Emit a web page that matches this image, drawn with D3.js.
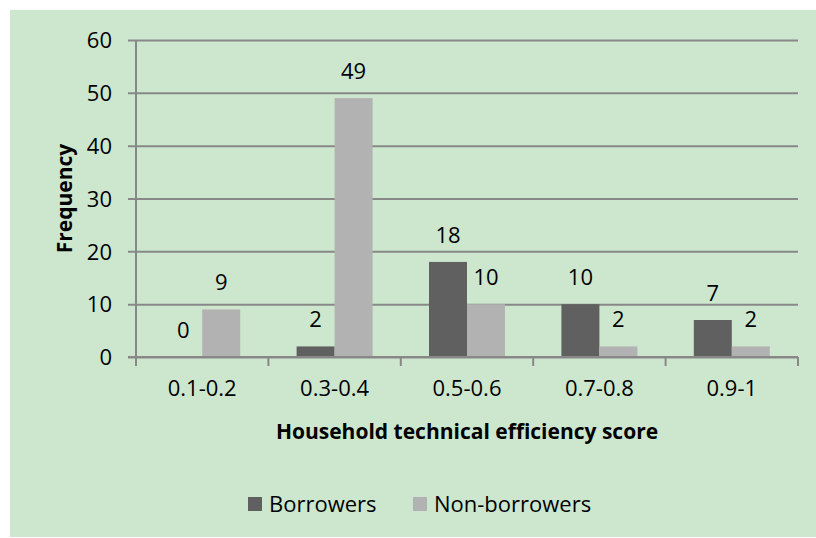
<!DOCTYPE html>
<html>
<head>
<meta charset="utf-8">
<script src="https://cdn.jsdelivr.net/npm/d3@7"></script>
<style>
  body { margin: 0; background: #fff; }
  text { font-family: "Open Sans", sans-serif; fill: #000; }
</style>
</head>
<body>
<svg id="chart" width="816" height="538"></svg>
<script>
// data
const categories = ['0.1-0.2', '0.3-0.4', '0.5-0.6', '0.7-0.8', '0.9-1']
const seriesNames = ['Borrowers', 'Non-borrowers']
const borrowers = [0, 2, 18, 10, 7]
const nonBorrowers = [9, 49, 10, 2, 2]
const yTicks = [0, 10, 20, 30, 40, 50, 60]

const colors = ['#606060', '#b2b2b2']
const margin = { top: 40, right: 18, bottom: 181, left: 136 }
const width = 816 - margin.left - margin.right
const height = 538 - margin.top - margin.bottom
const fontSize = 22

const svg = d3.select('#chart')

// 背景
svg.append('rect')
  .attr('x', 10).attr('y', 10)
  .attr('width', 806).attr('height', 527)
  .attr('fill', '#cde7cf')

const g = svg.append('g').attr('transform', `translate(${margin.left},${margin.top})`)

const x = d3.scaleBand().domain(categories).range([0, width])
const xInner = d3.scaleBand().domain(seriesNames)
  .range([0, 76]).padding(0)
const y = d3.scaleLinear().domain([0, 60]).range([height, 0])

// gridlines + y axis
const yAxis = g.append('g')
  .call(d3.axisLeft(y).tickValues(yTicks).tickSize(-width - 8).tickFormat(d3.format('d')))
  .attr('transform', 'translate(-8,0)')
yAxis.select('.domain').remove()
yAxis.selectAll('.tick line').attr('stroke', '#888').attr('stroke-width', 2)
yAxis.selectAll('.tick text').attr('font-size', fontSize).attr('x', -16).attr('dy', '0.35em')

g.append('line')
  .attr('x1', 0).attr('x2', 0).attr('y1', 0).attr('y2', height)
  .attr('stroke', '#888').attr('stroke-width', 2)

// bars
const rows = categories.map((c, i) => ({ cat: c, values: [borrowers[i], nonBorrowers[i]] }))

const groups = g.selectAll('.grp')
  .data(rows)
  .enter()
  .append('g')
  .attr('class', 'grp')
  .attr('transform', d => `translate(${x(d.cat) + (x.bandwidth() - 76) / 2},0)`)

groups.selectAll('rect')
  .data(d => d.values.map((v, j) => ({ key: seriesNames[j], v, j })))
  .enter()
  .append('rect')
  .attr('x', d => xInner(d.key))
  .attr('width', xInner.bandwidth())
  .attr('y', d => y(d.v))
  .attr('height', d => height - y(d.v))
  .attr('fill', d => colors[d.j])

groups.selectAll('.lbl')
  .data(d => d.values.map((v, j) => ({ key: seriesNames[j], v, j })))
  .enter()
  .append('text')
  .attr('class', 'lbl')
  .attr('x', d => xInner(d.key) + xInner.bandwidth() / 2)
  .attr('y', d => y(d.v) - 27)
  .attr('dy', '0.35em')
  .attr('text-anchor', 'middle')
  .attr('font-size', fontSize)
  .text(d => d.v)

// x axis
const xAxis = g.append('g')
  .attr('transform', `translate(0,${height})`)
  .call(d3.axisBottom(x).tickSize(0).tickPadding(23))
xAxis.select('.domain').remove()
xAxis.selectAll('.tick text').attr('font-size', fontSize)

g.append('line')
  .attr('x1', -8).attr('x2', width).attr('y1', height).attr('y2', height)
  .attr('stroke', '#888').attr('stroke-width', 2)

g.selectAll('.xtick')
  .data(d3.range(categories.length + 1))
  .enter()
  .append('line')
  .attr('x1', i => i * x.step()).attr('x2', i => i * x.step())
  .attr('y1', height).attr('y2', height + 9)
  .attr('stroke', '#888').attr('stroke-width', 2)

// titles
g.append('text')
  .attr('x', width / 2).attr('y', height + 75)
  .attr('dy', '0.35em')
  .attr('text-anchor', 'middle')
  .attr('font-size', 21).attr('font-weight', 'bold')
  .text('Household technical efficiency score')

svg.append('text')
  .attr('transform', `translate(65,${margin.top + height / 2}) rotate(-90)`)
  .attr('dy', '0.35em')
  .attr('text-anchor', 'middle')
  .attr('font-size', 21).attr('font-weight', 'bold')
  .text('Frequency')

// legend
const legendX = [248, 413]
const legend = svg.selectAll('.leg')
  .data(seriesNames)
  .enter()
  .append('g')
  .attr('transform', (d, i) => `translate(${legendX[i]},497)`)
legend.append('rect')
  .attr('width', 14).attr('height', 14)
  .attr('fill', (d, i) => colors[i])
legend.append('text')
  .attr('x', 21).attr('y', 7).attr('dy', '0.35em')
  .attr('font-size', fontSize)
  .text(d => d)
</script>
</body>
</html>
